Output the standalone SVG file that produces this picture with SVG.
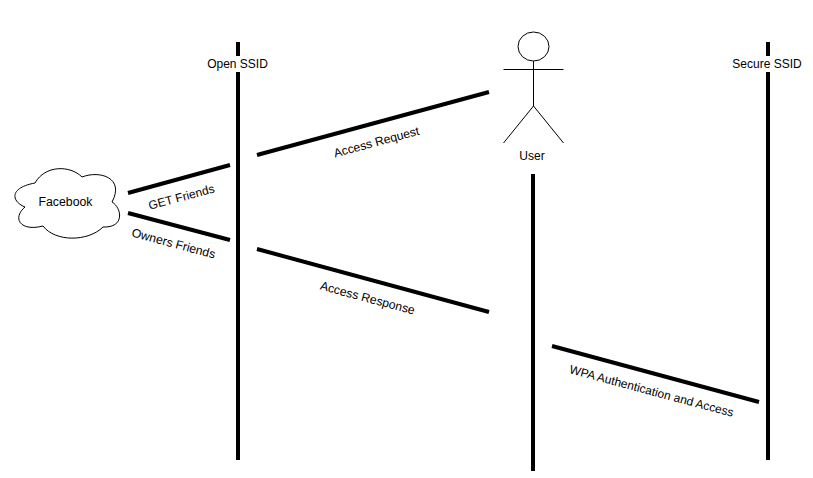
<svg xmlns="http://www.w3.org/2000/svg" width="813" height="478" viewBox="0 0 813 478">
<style>
text{font-family:"Liberation Sans",Arial,sans-serif;font-size:12px;fill:#000;text-anchor:middle}
.c line{stroke:#000;stroke-width:4}
.s{fill:none;stroke:#000;stroke-width:1}
.w{font-size:12.200px}
</style>
<rect width="813" height="478" fill="#fff"/>
<g id="connectors" class="c">
<line x1="238" y1="42" x2="238" y2="56"/>
<line x1="238" y1="72" x2="238" y2="460"/>
<line x1="533" y1="174" x2="533" y2="471"/>
<line x1="768" y1="42" x2="768" y2="56"/>
<line x1="768" y1="72" x2="768" y2="460"/>
<line x1="257" y1="155" x2="489" y2="92"/>
<line x1="128" y1="193" x2="230" y2="165"/>
<line x1="128" y1="213" x2="230" y2="240"/>
<line x1="257" y1="249" x2="489" y2="312"/>
<line x1="552" y1="346" x2="759" y2="402"/>
</g>
<g id="open-ssid"><text x="237.500" y="68">Open SSID</text></g>
<g id="secure-ssid"><text x="767" y="68">Secure SSID</text></g>
<g id="user">
<ellipse class="s" cx="533.500" cy="46.500" rx="15.500" ry="14.500"/>
<path class="s" d="M533.500 61V106M503.500 69.500H563.500M533.500 106L503.500 143M533.500 106L563.500 143"/>
<text x="532" y="160">User</text>
</g>
<g id="facebook">
<path d="M25 207C12 202 8 188 35 183C45 165 70 165 82 177C100 170 125 178 112 202C122 208 125 228 103 227C88 242 55 242 43 226C20 232 12 218 25 207Z" fill="#fff" stroke="#000"/>
<text x="65.500" y="206" style="font-size:12.300px">Facebook</text>
</g>
<g id="labels">
<text class="w" transform="translate(377.500 146) rotate(-15)">Access Request</text>
<text transform="translate(182.500 201) rotate(-15)">GET Friends</text>
<text class="w" transform="translate(172.500 247.500) rotate(15)">Owners Friends</text>
<text class="w" transform="translate(366.500 302) rotate(15)">Access Response</text>
<text transform="translate(650.500 395) rotate(15)">WPA Authentication and Access</text>
</g>
</svg>
